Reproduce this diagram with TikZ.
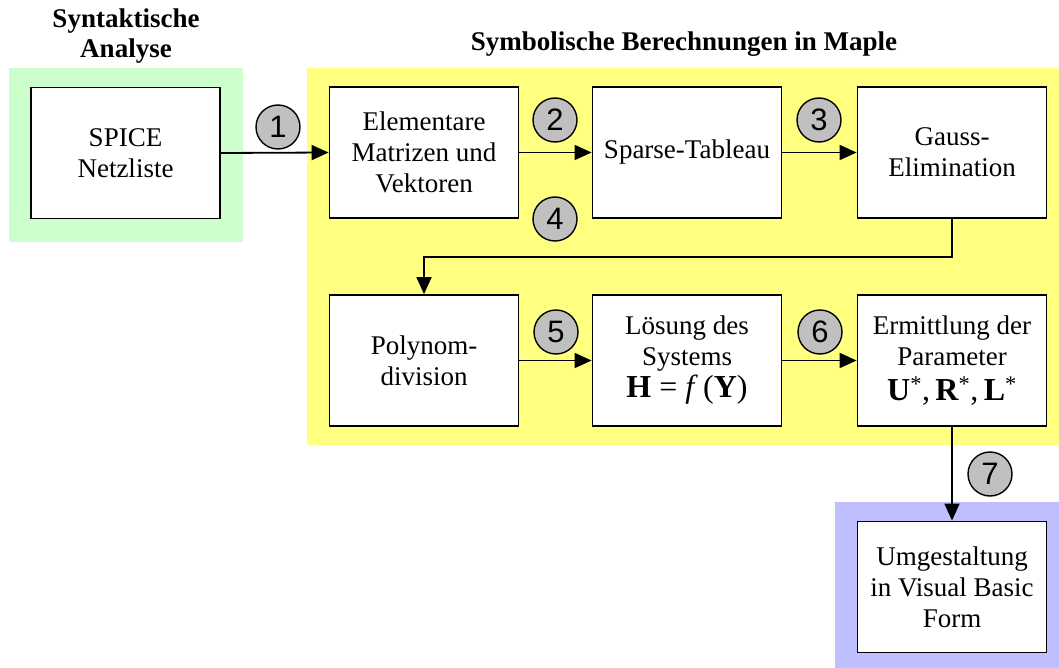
\documentclass[tikz,border=0pt]{standalone}
\usepackage{fontspec}
\setmainfont{Liberation Serif}
\newfontfamily\numfont{Liberation Sans}
\usetikzlibrary{arrows.meta}

\definecolor{bggreen}{HTML}{CCFFCC}
\definecolor{bgyellow}{HTML}{FFFF80}
\definecolor{bgblue}{HTML}{BFBFFF}
\definecolor{markgray}{HTML}{C0C0C0}

\tikzset{
  stepbox/.style={draw=black, line width=1.8pt, fill=white, inner sep=0pt,
    minimum width=189pt, minimum height=131pt, align=center,
    font=\fontsize{27}{31}\selectfont},
  flow/.style={line width=1.8pt, -{Triangle[length=17pt,width=15pt]}},
  marker/.style={circle, draw=black, line width=1.4pt, fill=markgray,
    minimum size=44pt, inner sep=0pt, font=\numfont\fontsize{31}{31}\selectfont},
  heading/.style={font=\bfseries\fontsize{27}{30}\selectfont, align=center}
}
\newcommand{\eqline}{\fontsize{32}{36}\selectfont}
\newcommand{\starred}[1]{\textbf{#1}\textsuperscript{*}}

\begin{document}
\begin{tikzpicture}[x=1pt, y=-1pt]
  \useasboundingbox (0,0) rectangle (1059,668);

  % coloured regions
  \fill[bggreen]  (9,68)    rectangle (243,242);
  \fill[bgyellow] (307,68)  rectangle (1059,445);
  \fill[bgblue]   (835,502) rectangle (1059,668);

  % headings
  \node[heading] (hsyn) at (126,36) {Syntaktische\\Analyse};
  \node[heading] (hsym) at (684,44) {Symbolische Berechnungen in Maple};

  % processing steps
  \node[stepbox] (spice)  at (125.5,153) {SPICE\\Netzliste};
  \node[stepbox] (elem)   at (424,152.5) {Elementare\\Matrizen und\\Vektoren};
  \node[stepbox] (sparse) at (687,152.5) {Sparse-Tableau};
  \node[stepbox] (gauss)  at (952,152.5) {Gauss-\\Elimination};
  \node[stepbox] (poly)   at (424,360.5) {Polynom-\\division};
  \node[stepbox] (loes)   at (687,360.5) {L\"osung des\\Systems\\[1pt]
    {\eqline\textbf{H} = \textit{f}\,(\textbf{Y})}};
  \node[stepbox] (ermit)  at (952,360.5) {Ermittlung der\\Parameter\\[4pt]
    {\eqline\starred{U},\,\starred{R},\,\starred{L}}};
  \node[stepbox] (umg)    at (952,587)   {Umgestaltung\\in Visual Basic\\Form};

  % connectors
  \coordinate (turn) at (952,257);
  \draw[flow] (spice.east) -- (elem.west);
  \draw[flow] (elem.east) -- (sparse.west);
  \draw[flow] (sparse.east) -- (gauss.west);
  \draw[flow] (gauss.south) -- (turn) -| (poly.north);
  \draw[flow] (poly.east) -- (loes.west);
  \draw[flow] (loes.east) -- (ermit.west);
  \draw[flow] (ermit.south) -- (umg.north);

  % step numbers
  \node[marker] (m1) at (278,127) {1};
  \node[marker] (m2) at (555,120) {2};
  \node[marker] (m3) at (819,120) {3};
  \node[marker] (m4) at (555,219) {4};
  \node[marker] (m5) at (556,332) {5};
  \node[marker] (m6) at (820,332) {6};
  \node[marker] (m7) at (990,474) {7};
\end{tikzpicture}
\end{document}
